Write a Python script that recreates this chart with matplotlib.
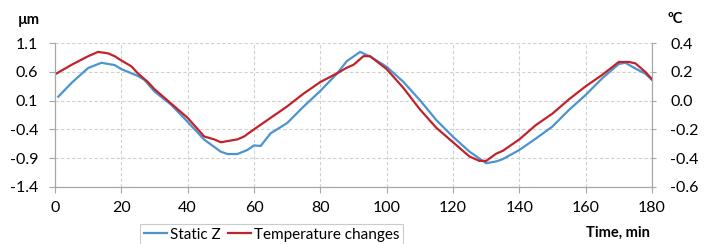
import matplotlib.pyplot as plt
import numpy as np

plt.rcParams['font.family'] = ['Lato', 'DejaVu Sans']

# Static Z, um (left axis)
t_z = [1, 5, 10, 14, 18, 20, 25, 27, 30, 35, 40, 45, 50, 52, 55, 58, 60, 62, 65, 70,
       75, 80, 85, 88, 92, 95, 100, 105, 110, 115, 120, 125, 130, 133, 135, 140, 145,
       150, 155, 160, 165, 170, 172, 175, 178, 180]
static_z = [0.17, 0.41, 0.67, 0.76, 0.72, 0.65, 0.53, 0.46, 0.26, 0.03, -0.27, -0.58,
            -0.79, -0.83, -0.83, -0.76, -0.68, -0.69, -0.47, -0.29, 0.0, 0.27, 0.57,
            0.79, 0.95, 0.87, 0.69, 0.43, 0.11, -0.24, -0.53, -0.79, -0.99, -0.96,
            -0.92, -0.76, -0.56, -0.35, -0.06, 0.20, 0.49, 0.74, 0.76, 0.66, 0.57, 0.46]

# Temperature changes, degC (right axis)
t_temp = [0.5, 5, 10, 13, 16, 18, 20, 23, 25, 28, 30, 35, 40, 45, 48, 50, 55, 57, 60,
          65, 70, 75, 80, 85, 88, 90, 93, 95, 100, 105, 110, 115, 120, 125, 128, 130,
          133, 135, 140, 145, 150, 155, 160, 165, 170, 173, 175, 178, 180]
temp = [0.19, 0.25, 0.31, 0.34, 0.33, 0.31, 0.28, 0.24, 0.19, 0.13, 0.08, -0.02, -0.12,
        -0.25, -0.27, -0.29, -0.27, -0.25, -0.20, -0.12, -0.04, 0.05, 0.13, 0.19, 0.23,
        0.25, 0.31, 0.31, 0.22, 0.09, -0.06, -0.19, -0.29, -0.39, -0.42, -0.42, -0.37,
        -0.35, -0.27, -0.17, -0.09, 0.01, 0.10, 0.18, 0.27, 0.27, 0.26, 0.20, 0.15]

left_ticks = [1.1, 0.6, 0.1, -0.4, -0.9, -1.4]
right_ticks = [0.4, 0.2, 0.0, -0.2, -0.4, -0.6]

blue = '#4b94cf'
red = '#c0232c'
spine_c = '#a6a6a6'

fig = plt.figure(figsize=(7.1, 2.44), dpi=100)
ax = fig.add_axes([55 / 710, 1 - 186.7 / 244, 597 / 710, 143.4 / 244])
ax2 = ax.twinx()

l1, = ax.plot(t_z, static_z, color=blue, lw=1.6, label='Static Z')
l2, = ax2.plot(t_temp, temp, color=red, lw=1.6, label='Temperature changes')

ax.set_xlim(0, 180)
ax.set_ylim(-1.4, 1.1)
ax2.set_ylim(-0.6, 0.4)
ax.set_xticks(np.arange(0, 181, 20))
ax.set_yticks(left_ticks)
ax.set_yticklabels(['%.1f' % v for v in left_ticks])
ax2.set_yticks(right_ticks)
ax2.set_yticklabels(['%.1f' % v for v in right_ticks])

ax.grid(True, color='#d0d0d0', ls=(0, (3, 2)), lw=0.8)
for a in (ax, ax2):
    a.spines['top'].set_visible(False)
    for s in ('left', 'right', 'bottom'):
        a.spines[s].set_color(spine_c)
    a.tick_params(colors=spine_c, labelcolor='black', labelsize=11.5, length=4, width=0.8)
ax.tick_params(axis='y', pad=8)
ax2.tick_params(axis='y', pad=10, length=3)
ax.tick_params(axis='x', pad=6)

fig.text(18 / 710, 1 - 20 / 244, 'µm', fontsize=10.5, fontweight='bold', va='center')
fig.text(667 / 710, 1 - 19 / 244, 'ºC', fontsize=10.5, fontweight='bold', va='center')
fig.text(650 / 710, 1 - 233 / 244, 'Time, min', fontsize=10.5, fontweight='bold',
         va='center', ha='right')

leg = fig.legend(handles=[l1, l2], loc='upper left', bbox_to_anchor=(140 / 710, 1 - 224 / 244),
                 ncol=2, fontsize=11, frameon=True, fancybox=False, handlelength=1.5,
                 handletextpad=0.2, columnspacing=0.5, borderpad=0.25, borderaxespad=0)
leg.get_frame().set_edgecolor('#bfbfbf')
leg.get_frame().set_linewidth(0.8)

fig.savefig('out.png', dpi=100)
